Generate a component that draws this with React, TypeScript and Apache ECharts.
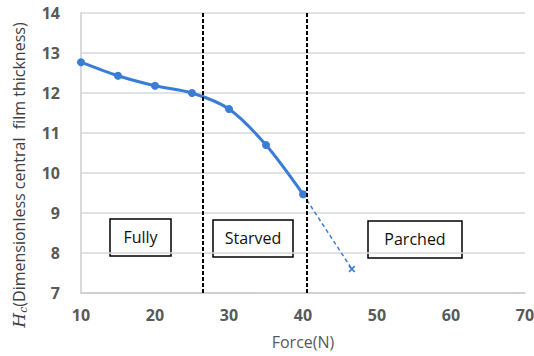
import React, { useEffect, useRef } from "react";
import * as echarts from "echarts";

const forces = [10, 15, 20, 25, 30, 35, 40];
const thickness = [12.77, 12.43, 12.18, 12.0, 11.6, 10.7, 9.47];
const parchedForces = [40, 46.6];
const parchedThickness = [9.47, 7.6];
const regimeBounds = [26.4, 40.5];
const regimeLabels = ["Fully", "Starved", "Parched"];

export default function App() {
  const ref = useRef<HTMLDivElement>(null);
  useEffect(() => {
    const chart = echarts.init(ref.current!, null, { renderer: "svg" });
    const font = "'Open Sans', 'Noto Sans', sans-serif";
    const boxes = [
      { x: 110, y: 219, w: 61, h: 37 },
      { x: 213, y: 220, w: 80, h: 37 },
      { x: 368, y: 221, w: 94, h: 37 },
    ];
    const boxGraphics = boxes.map((b, i) => ({
      type: "group",
      children: [
        {
          type: "rect",
          shape: { x: b.x, y: b.y, width: b.w, height: b.h },
          style: { fill: "#ffffff", stroke: "#000000", lineWidth: 1.5 },
        },
        {
          type: "text",
          x: b.x + b.w / 2,
          y: b.y + b.h / 2 - 1,
          style: {
            text: regimeLabels[i],
            fontFamily: font,
            fontSize: 16,
            fill: "#111111",
            align: "center",
            verticalAlign: "middle",
          },
        },
      ],
    }));
    chart.setOption({
      animation: false,
      backgroundColor: "#ffffff",
      grid: { left: 81, right: 9, top: 13, bottom: 63, containLabel: false, outerBoundsMode: "none" },
      xAxis: {
        type: "value",
        min: 10,
        max: 70,
        interval: 10,
        name: "Force(N)",
        nameLocation: "middle",
        nameGap: 41,
        nameTextStyle: { fontFamily: font, fontSize: 16, color: "#595959" },
        axisLine: { show: true, lineStyle: { color: "#cccccc", width: 1.5 } },
        axisTick: { show: false },
        axisLabel: { fontFamily: font, fontSize: 16, fontWeight: "bold", color: "#595959", margin: 14 },
        splitLine: { show: false },
      },
      yAxis: {
        type: "value",
        min: 7,
        max: 14,
        interval: 1,
        axisLine: { show: true, lineStyle: { color: "#cccccc", width: 1.5 } },
        axisTick: { show: false },
        axisLabel: { fontFamily: font, fontSize: 16, fontWeight: "bold", color: "#595959", margin: 21 },
        splitLine: { show: true, lineStyle: { color: "#d9d9d9", width: 1.5 } },
      },
      series: [
        {
          type: "line",
          data: forces.map((f, i) => [f, thickness[i]]),
          smooth: 0.3,
          symbol: "circle",
          symbolSize: 8,
          lineStyle: { color: "#3a7dd6", width: 3 },
          itemStyle: { color: "#3a7dd6" },
          z: 3,
          markLine: {
            silent: true,
            symbol: "none",
            label: { show: false },
            lineStyle: { color: "#000000", type: [4, 2], width: 2 },
            data: regimeBounds.map((b) => ({ xAxis: b })),
          },
        },
        {
          type: "line",
          data: parchedForces.map((f, i) => [f, parchedThickness[i]]),
          symbol: "path://M4,0L6,0L6,4L10,4L10,6L6,6L6,10L4,10L4,6L0,6L0,4L4,4Z",
          symbolRotate: 45,
          symbolSize: 8,
          showSymbol: true,
          lineStyle: { color: "#3a7dd6", width: 1.5, type: [4, 3] },
          itemStyle: { color: "#3a7dd6" },
          z: 2,
        },
      ],
      graphic: [
        ...boxGraphics,
        {
          type: "text",
          x: 19,
          y: 175,
          rotation: Math.PI / 2,
          style: {
            text: "{i|H}{sub|c}{n|(Dimensionless central  film thickness)}",
            align: "center",
            verticalAlign: "middle",
            fontFamily: font,
            fontSize: 16,
            fill: "#404040",
            rich: {
              i: { fontFamily: "'DejaVu Serif', serif", fontStyle: "italic", fontSize: 17, fill: "#404040" },
              sub: { fontFamily: "'DejaVu Serif', serif", fontStyle: "italic", fontSize: 11, fill: "#404040", verticalAlign: "bottom", padding: [8, 0, 0, 0] },
              n: { fontFamily: font, fontSize: 16, fill: "#404040" },
            },
          },
        },
      ],
    });
    return () => chart.dispose();
  }, []);
  return <div ref={ref} style={{ width: 534, height: 356, position: "absolute", left: 0, top: 0 }} />;
}
